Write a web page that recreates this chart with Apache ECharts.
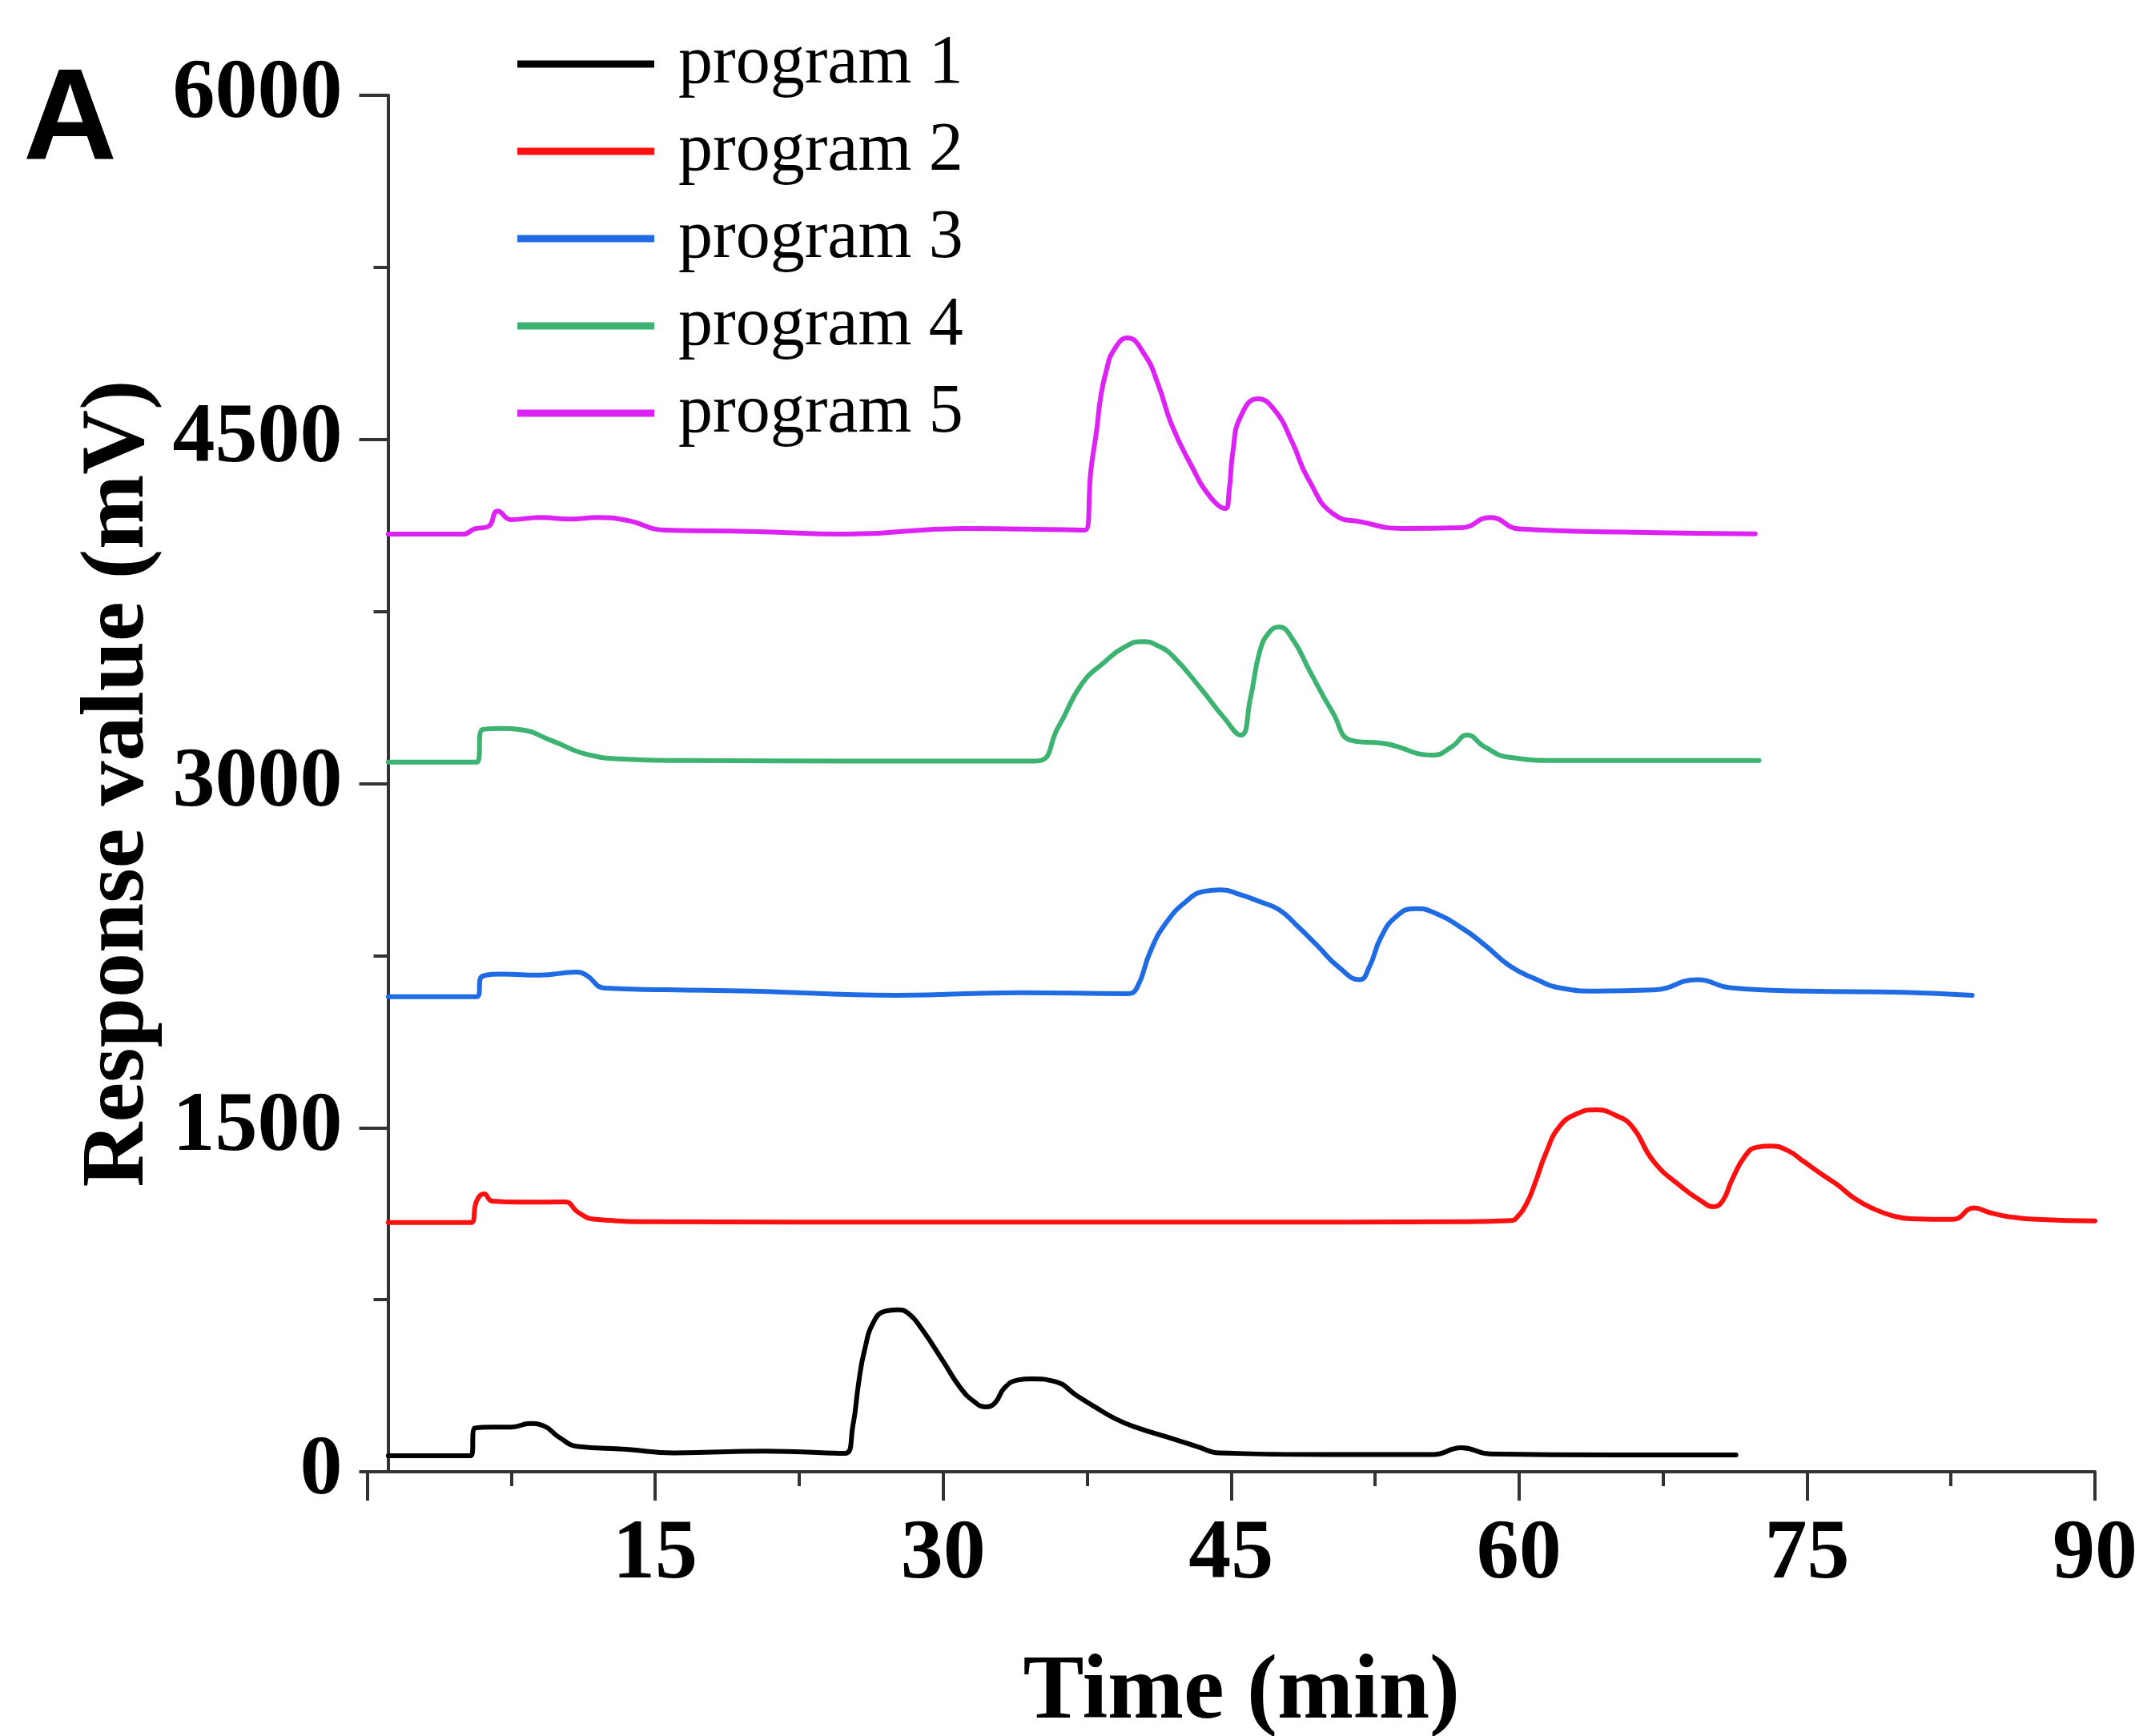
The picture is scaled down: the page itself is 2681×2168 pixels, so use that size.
<!DOCTYPE html>
<html>
<head>
<meta charset="utf-8">
<script src="https://cdn.jsdelivr.net/npm/echarts@6/dist/echarts.min.js"></script>
<style>
html,body{margin:0;padding:0;background:#fff;}
#chart{width:2681px;height:2168px;}
</style>
</head>
<body>
<div id="chart"></div>
<script>
// ---- data (time in min, response in mV) ----
const seriesNames = ['program 1', 'program 2', 'program 3', 'program 4', 'program 5'];
const seriesColors = ['#000000', '#ff1010', '#1f6be3', '#3cb371', '#dc22f5'];

const p1Time  = [1.1, 5.4, 5.6, 6.5, 7.5, 8.5, 9.2, 10.0, 11.0, 13.5, 16.0, 20.7, 24.9, 25.3, 25.6, 25.9, 26.4, 27.0, 27.6, 28.2, 28.9, 30.0, 30.9, 31.6, 32.2, 32.7, 33.2, 33.9, 34.6, 35.8, 37.0, 37.9, 39.0, 40.0, 42.1, 43.3, 44.4, 50.0, 55.5, 57.0, 58.5, 65.0, 71.3];
const p1Value = [70, 70, 190, 195, 195, 210, 200, 150, 110, 98, 82, 90, 80, 200, 387, 527, 656, 700, 706, 690, 621, 482, 366, 307, 283, 300, 366, 400, 405, 394, 330, 283, 230, 195, 140, 108, 82, 75, 75, 105, 78, 73, 73];

const p2Time  = [1.1, 5.4, 5.7, 6.1, 6.5, 8.0, 10.3, 11.0, 11.9, 15, 30, 45, 57, 59.6, 59.9, 60.4, 60.8, 61.4, 62.1, 63.0, 64.0, 65.0, 65.9, 67.0, 68.5, 69.5, 70.1, 70.6, 71.1, 71.8, 72.4, 73.1, 74.0, 74.8, 75.8, 76.6, 77.5, 78.5, 79.5, 80.4, 82.6, 83.7, 84.5, 85.5, 87.0, 90.0];
const p2Value = [1086, 1086, 1180, 1211, 1180, 1175, 1176, 1130, 1100, 1090, 1088, 1088, 1090, 1095, 1110, 1170, 1250, 1389, 1504, 1560, 1578, 1555, 1504, 1354, 1239, 1180, 1155, 1180, 1274, 1379, 1415, 1420, 1400, 1354, 1295, 1250, 1190, 1145, 1115, 1103, 1100, 1150, 1130, 1112, 1100, 1093];

const p3Time  = [1.1, 5.7, 6.0, 7.0, 9.0, 10.9, 11.4, 12.4, 15.6, 20, 27.6, 34, 39.6, 40.1, 40.8, 41.6, 42.7, 43.6, 44.5, 45.5, 46.5, 47.5, 48.5, 49.5, 50.6, 51.7, 52.2, 52.8, 53.6, 54.6, 55.5, 57.1, 58.3, 59.5, 60.8, 62.2, 64.0, 67.0, 69.3, 71.0, 75, 80, 83.6];
const p3Value = [2071, 2071, 2160, 2169, 2165, 2178, 2165, 2108, 2101, 2095, 2077, 2088, 2084, 2110, 2269, 2391, 2489, 2530, 2537, 2515, 2485, 2450, 2375, 2293, 2200, 2145, 2200, 2328, 2420, 2455, 2440, 2366, 2290, 2206, 2150, 2108, 2095, 2100, 2145, 2110, 2095, 2090, 2077];

const p4Time  = [1.1, 5.7, 6.0, 7.0, 8.0, 9.6, 11.6, 13.6, 17, 25, 34.8, 36.0, 37.2, 38.4, 39.6, 40.4, 41.2, 42.0, 43.5, 44.6, 45.5, 46.0, 46.5, 47.0, 47.5, 48.2, 49.1, 50.3, 51.3, 53.1, 55.5, 56.5, 57.3, 58.2, 59.5, 62, 67, 72.5];
const p4Value = [3093, 3093, 3235, 3240, 3235, 3187, 3124, 3106, 3100, 3098, 3098, 3246, 3431, 3529, 3602, 3619, 3600, 3553, 3406, 3290, 3211, 3368, 3577, 3660, 3682, 3630, 3490, 3309, 3187, 3173, 3124, 3160, 3211, 3160, 3114, 3100, 3100, 3100];

const p5Time  = [1.1, 5.0, 5.6, 6.3, 6.8, 7.5, 9.0, 10.6, 12.0, 13.6, 15.5, 20, 25, 31, 37.4, 37.7, 38.0, 38.2, 38.5, 38.9, 39.6, 40.5, 41.2, 41.9, 42.9, 43.9, 44.7, 44.9, 45.1, 45.5, 46.4, 47.3, 48.2, 49.0, 50.4, 51.8, 53.9, 57.0, 58.5, 60.0, 66, 72.3];
const p5Value = [4087, 4087, 4110, 4120, 4188, 4150, 4160, 4153, 4160, 4146, 4105, 4099, 4087, 4112, 4105, 4366, 4541, 4680, 4799, 4890, 4942, 4869, 4740, 4565, 4391, 4251, 4199, 4276, 4450, 4600, 4677, 4624, 4485, 4331, 4171, 4140, 4112, 4115, 4160, 4110, 4095, 4088];

const xTicks = [0, 15, 30, 45, 60, 75, 90];
const yTicks = [0, 1500, 3000, 4500, 6000];

const allTimes = [p1Time, p2Time, p3Time, p4Time, p5Time];
const allValues = [p1Value, p2Value, p3Value, p4Value, p5Value];

// ---- chart ----
const serif = "'Liberation Serif', 'Times New Roman', serif";
const axisColor = '#333333';
const chart = echarts.init(document.getElementById('chart'), null, {renderer: 'canvas'});

const series = seriesNames.map((name, i) => ({
  name: name,
  type: 'line',
  data: allTimes[i].map((t, k) => [t, allValues[i][k]]),
  showSymbol: false,
  symbol: 'none',
  smooth: 0.5,
  lineStyle: {color: seriesColors[i], width: 6, join: 'round', cap: 'round'},
  itemStyle: {color: seriesColors[i]},
  animation: false
}));

chart.setOption({
  backgroundColor: '#ffffff',
  animation: false,
  grid: {
    left: 458.5, right: 65, top: 119, bottom: 330,
    containLabel: false,
    outerBoundsMode: 'none'
  },
  legend: {
    data: seriesNames,
    orient: 'vertical',
    left: 646,
    top: 30,
    padding: 0,
    icon: 'rect',
    itemWidth: 171,
    itemHeight: 9,
    itemGap: 9,
    textStyle: {
      fontFamily: serif,
      fontSize: 86,
      color: '#000',
      lineHeight: 100,
      padding: [0, 0, 0, 25]
    }
  },
  xAxis: {
    type: 'value',
    min: xTicks[0],
    max: xTicks[xTicks.length - 1],
    interval: xTicks[1] - xTicks[0],
    name: 'Time (min)',
    nameLocation: 'middle',
    nameGap: 221,
    nameTextStyle: {fontFamily: serif, fontSize: 114, fontWeight: 'bold', color: '#000', padding: [0, 0, 0, 26]},
    axisLine: {show: true, lineStyle: {color: axisColor, width: 4}},
    axisTick: {show: true, length: 36, lineStyle: {color: axisColor, width: 4}},
    minorTick: {show: true, splitNumber: 2, length: 18, lineStyle: {color: axisColor, width: 4}},
    splitLine: {show: false},
    axisLabel: {
      showMinLabel: false,
      margin: 52,
      formatter: v => String(v),
      fontFamily: serif, fontSize: 106, fontWeight: 'bold', color: '#000'
    }
  },
  yAxis: {
    type: 'value',
    min: yTicks[0],
    max: yTicks[yTicks.length - 1],
    interval: yTicks[1] - yTicks[0],
    offset: -26,
    name: 'Response value (mV)',
    nameLocation: 'middle',
    nameGap: 277,
    nameTextStyle: {fontFamily: serif, fontSize: 112, fontWeight: 'bold', color: '#000'},
    axisLine: {show: true, onZero: false, lineStyle: {color: axisColor, width: 4}},
    axisTick: {show: true, length: 36, lineStyle: {color: axisColor, width: 4}},
    minorTick: {show: true, splitNumber: 2, length: 18, lineStyle: {color: axisColor, width: 4}},
    splitLine: {show: false},
    axisLabel: {
      margin: 57,
      formatter: v => String(v),
      fontFamily: serif, fontSize: 106, fontWeight: 'bold', color: '#000'
    }
  },
  graphic: [{
    type: 'text',
    left: 29,
    top: 72,
    style: {
      text: 'A',
      fontFamily: "'Liberation Sans', Arial, sans-serif",
      fontSize: 162,
      fontWeight: 'bold',
      fill: '#000'
    }
  }],
  series: series
});
</script>
</body>
</html>
